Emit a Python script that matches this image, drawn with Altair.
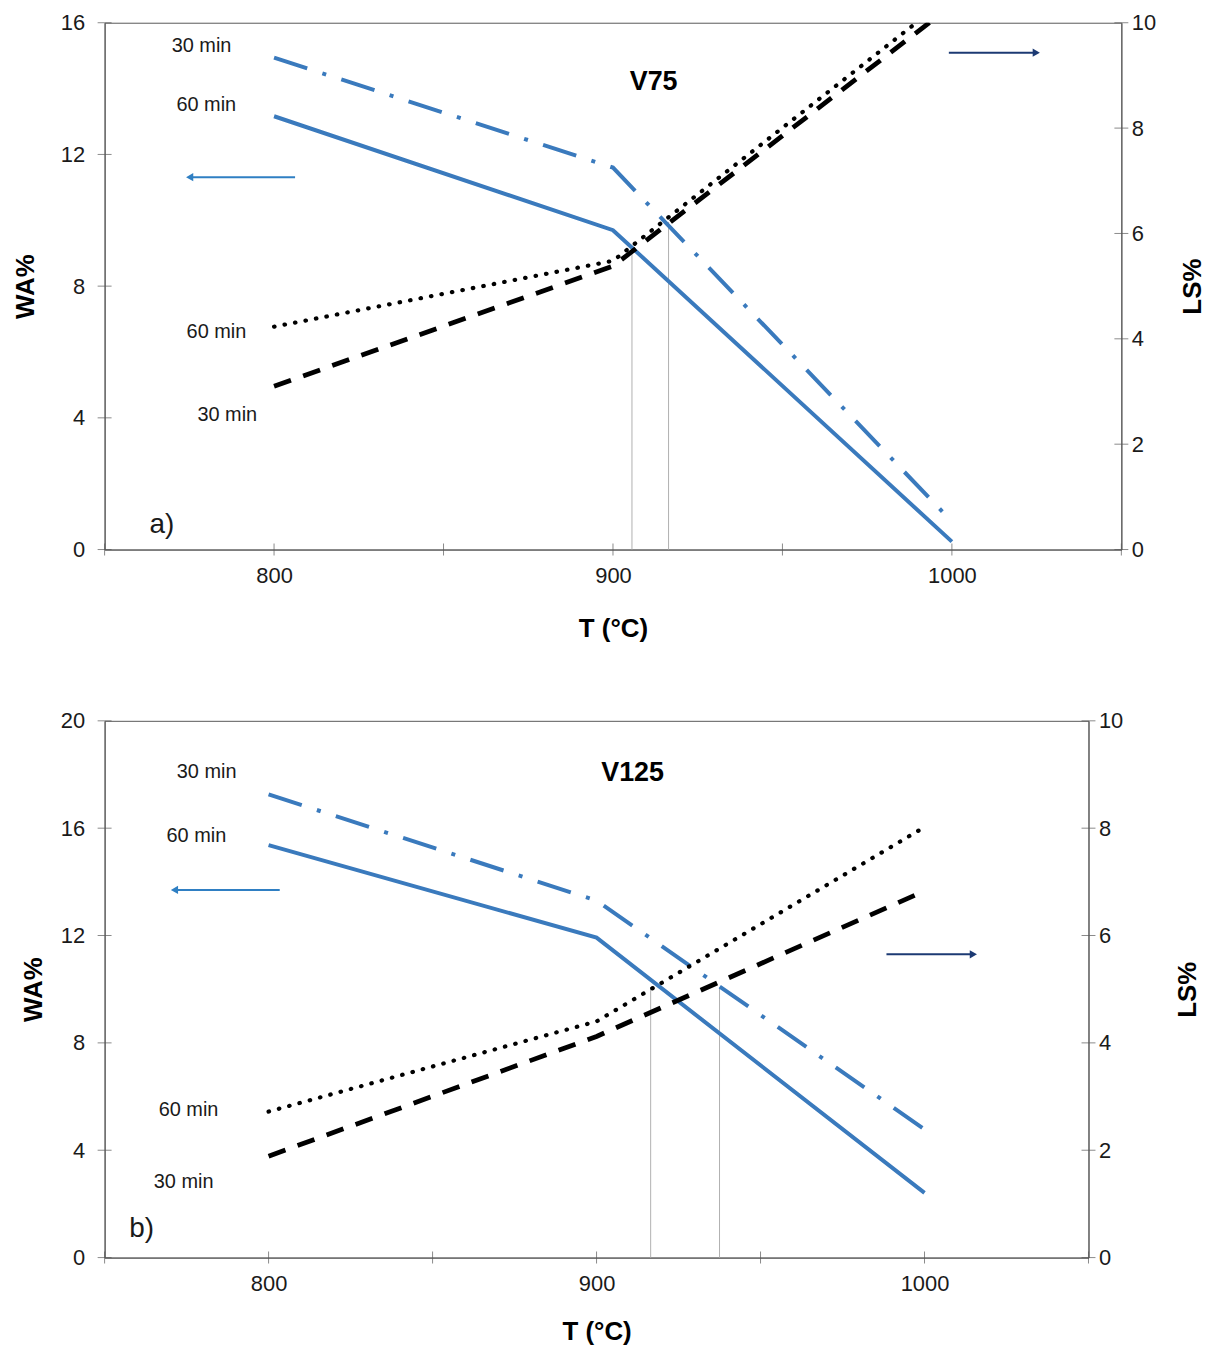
import altair as alt
import pandas as pd

# ---------------- data ----------------
T = [800, 900, 1000]

# panel a) V75
A_WA_30 = [14.94, 11.6, 0.85]
A_WA_60 = [13.16, 9.7, 0.24]
A_LS_60 = [4.23, 5.48, 10.53]
A_LS_30 = [3.10, 5.38, 10.33]
A_VL_T = [905.6, 916.4]
A_VL_WA = [9.1, 9.95]

# panel b) V125
B_WA_30 = [17.26, 13.3, 4.78]
B_WA_60 = [15.37, 11.92, 2.41]
B_LS_60 = [2.72, 4.4, 8.02]
B_LS_30 = [1.89, 4.12, 6.83]
B_VL_T = [916.5, 937.5]
B_VL_WA = [10.07, 10.04]

X_TICKS = [750, 800, 850, 900, 950, 1000, 1050]
X_LABELS = [800, 900, 1000]
A_WA_TICKS = [0, 4, 8, 12, 16]
B_WA_TICKS = [0, 4, 8, 12, 16, 20]
LS_TICKS = [0, 2, 4, 6, 8, 10]

# annotations (data coordinates: T, WA)
LABELS = ["30 min", "60 min", "60 min", "30 min"]
A_LABEL_T = [778.6, 780.0, 783.0, 786.2]
A_LABEL_WA = [15.3, 13.5, 6.6, 4.08]
B_LABEL_T = [781.1, 778.0, 775.6, 774.1]
B_LABEL_WA = [18.1, 15.7, 5.48, 2.81]

A_NAME, A_NAME_T, A_NAME_WA = "V75", 912.0, 14.2
B_NAME, B_NAME_T, B_NAME_WA = "V125", 911.0, 18.07
A_TAG, A_TAG_T, A_TAG_WA = "a)", 766.9, 0.73
B_TAG, B_TAG_T, B_TAG_WA = "b)", 761.3, 1.07

A_ARROW_L = ([775.1, 806.2], 11.31)
A_ARROW_R = ([999.1, 1024.9], 15.09)
B_ARROW_L = ([771.3, 803.4], 13.7)
B_ARROW_R = ([988.4, 1014.9], 11.3)

BLUE = "#3a7abd"
BLUE_ARROW = "#2f7fc3"
NAVY = "#1c3a73"
AXIS_GREY = "#595959"
FONT = "Liberation Sans"
LABEL_SIZE = 22
TITLE_SIZE = 26


def panel(wa30, wa60, ls60, ls30, vl_t, vl_wa, wa_max, wa_ticks,
          lab_t, lab_wa, name, name_t, name_wa, tag, tag_t, tag_wa,
          arrow_l, arrow_r, width, height, wa_title_pad, ls_title_pad, x_title_pad):
    xs = alt.Scale(domain=[750, 1050], nice=False, zero=False)
    wa_s = alt.Scale(domain=[0, wa_max], nice=False, zero=False)
    ls_s = alt.Scale(domain=[0, 10], nice=False, zero=False)

    X = alt.X("T:Q", scale=xs,
              axis=alt.Axis(values=X_LABELS, ticks=False, grid=False,
                            title="T (°C)", labelPadding=16, titlePadding=x_title_pad,
                            format="d", labelFont=FONT, labelFontSize=LABEL_SIZE,
                            titleFont=FONT, titleFontSize=TITLE_SIZE,
                            titleFontWeight="bold"))
    YWA = alt.Y("WA:Q", scale=wa_s,
                axis=alt.Axis(orient="left", values=wa_ticks, ticks=False,
                              grid=False, title="WA%", labelPadding=20,
                              titlePadding=wa_title_pad, labelFont=FONT,
                              labelFontSize=LABEL_SIZE, titleFont=FONT,
                              titleFontSize=TITLE_SIZE, titleFontWeight="bold"))
    YLS = alt.Y("LS:Q", scale=ls_s,
                axis=alt.Axis(orient="right", values=LS_TICKS, ticks=False,
                              grid=False, title="LS%", labelPadding=10,
                              titlePadding=ls_title_pad, titleAngle=270,
                              titleBaseline="top", labelFont=FONT,
                              labelFontSize=LABEL_SIZE, titleFont=FONT,
                              titleFontSize=TITLE_SIZE, titleFontWeight="bold"))

    d30 = pd.DataFrame({"T": T, "WA": wa30})
    d60 = pd.DataFrame({"T": T, "WA": wa60})
    l60 = pd.DataFrame({"T": T, "LS": ls60})
    l30 = pd.DataFrame({"T": T, "LS": ls30})

    wa_line30 = alt.Chart(d30).mark_line(
        color=BLUE, strokeWidth=4, strokeDash=[35, 16, 4, 16], clip=True
    ).encode(x=X, y=YWA)
    wa_line60 = alt.Chart(d60).mark_line(
        color=BLUE, strokeWidth=4, clip=True
    ).encode(x=X, y=YWA)

    vl = alt.Chart(pd.DataFrame({"T": vl_t, "WA": vl_wa})).mark_rule(
        color="#b0b0b0", strokeWidth=1
    ).encode(x=X, y=YWA, y2=alt.datum(0))

    txt = alt.Chart(pd.DataFrame({"T": lab_t, "WA": lab_wa, "t": LABELS})).mark_text(
        font=FONT, fontSize=20, color="#1a1a1a", align="center", baseline="middle"
    ).encode(x=X, y=YWA, text="t:N")
    name_txt = alt.Chart(pd.DataFrame({"T": [name_t], "WA": [name_wa], "t": [name]})).mark_text(
        font=FONT, fontSize=27, fontWeight="bold", color="black",
        align="center", baseline="middle"
    ).encode(x=X, y=YWA, text="t:N")
    tag_txt = alt.Chart(pd.DataFrame({"T": [tag_t], "WA": [tag_wa], "t": [tag]})).mark_text(
        font=FONT, fontSize=28, color="#1a1a1a", align="center", baseline="middle"
    ).encode(x=X, y=YWA, text="t:N")

    al = pd.DataFrame({"T": [arrow_l[0][0]], "T2": [arrow_l[0][1]], "WA": [arrow_l[1]]})
    ar = pd.DataFrame({"T": [arrow_r[0][0]], "T2": [arrow_r[0][1]], "WA": [arrow_r[1]]})
    al_head = pd.DataFrame({"T": [arrow_l[0][0]], "WA": [arrow_l[1]]})
    ar_head = pd.DataFrame({"T": [arrow_r[0][1]], "WA": [arrow_r[1]]})
    arr_l = alt.Chart(al).mark_rule(color=BLUE_ARROW, strokeWidth=2).encode(
        x=X, x2="T2:Q", y=YWA)
    arr_l_head = alt.Chart(al_head).mark_point(
        shape="triangle-left", filled=True, size=70, color=BLUE_ARROW, opacity=1
    ).encode(x=X, y=YWA)
    arr_r = alt.Chart(ar).mark_rule(color=NAVY, strokeWidth=2).encode(
        x=X, x2="T2:Q", y=YWA)
    arr_r_head = alt.Chart(ar_head).mark_point(
        shape="triangle-right", filled=True, size=70, color=NAVY, opacity=1
    ).encode(x=X, y=YWA)

    x_ticks = alt.Chart(pd.DataFrame({"T": X_TICKS})).mark_tick(
        orient="vertical", size=12, thickness=1, color=AXIS_GREY
    ).encode(x=X, y=alt.value(height))
    wa_ticks_m = alt.Chart(pd.DataFrame({"WA": wa_ticks})).mark_tick(
        orient="horizontal", size=14, thickness=1, color=AXIS_GREY
    ).encode(y=YWA, x=alt.value(0))

    ls_line60 = alt.Chart(l60).mark_line(
        color="black", strokeWidth=4.2, strokeDash=[0.5, 10.2], strokeCap="round", clip=True
    ).encode(x=X, y=YLS)
    ls_line30 = alt.Chart(l30).mark_line(
        color="black", strokeWidth=4.8, strokeDash=[18, 13], clip=True
    ).encode(x=X, y=YLS)
    ls_ticks_m = alt.Chart(pd.DataFrame({"LS": LS_TICKS})).mark_tick(
        orient="horizontal", size=14, thickness=1, color=AXIS_GREY
    ).encode(y=YLS, x=alt.value(width))

    wa_layer = alt.layer(vl, wa_line60, wa_line30, txt, name_txt, tag_txt,
                         arr_l, arr_l_head, arr_r, arr_r_head, x_ticks, wa_ticks_m)
    ls_layer = alt.layer(ls_line60, ls_line30, ls_ticks_m)
    return alt.layer(wa_layer, ls_layer).resolve_scale(y="independent").properties(
        width=width, height=height)


top = panel(A_WA_30, A_WA_60, A_LS_60, A_LS_30, A_VL_T, A_VL_WA, 16, A_WA_TICKS,
            A_LABEL_T, A_LABEL_WA, A_NAME, A_NAME_T, A_NAME_WA,
            A_TAG, A_TAG_T, A_TAG_WA, A_ARROW_L, A_ARROW_R, 1021, 529, 22, 24, 29)
bottom = panel(B_WA_30, B_WA_60, B_LS_60, B_LS_30, B_VL_T, B_VL_WA, 20, B_WA_TICKS,
               B_LABEL_T, B_LABEL_WA, B_NAME, B_NAME_T, B_NAME_WA,
               B_TAG, B_TAG_T, B_TAG_WA, B_ARROW_L, B_ARROW_R, 988, 539, 14, 52, 24)

chart = alt.vconcat(top, bottom, spacing=67).properties(
    padding={"left": 4, "top": 0, "right": 0, "bottom": 0}
).configure_view(
    stroke=AXIS_GREY, strokeWidth=1
).configure_axis(
    domainColor=AXIS_GREY, domainWidth=1, labelColor="#1a1a1a", titleColor="black"
)

chart.save("out.html", embed_options={"renderer": "svg", "actions": False})
